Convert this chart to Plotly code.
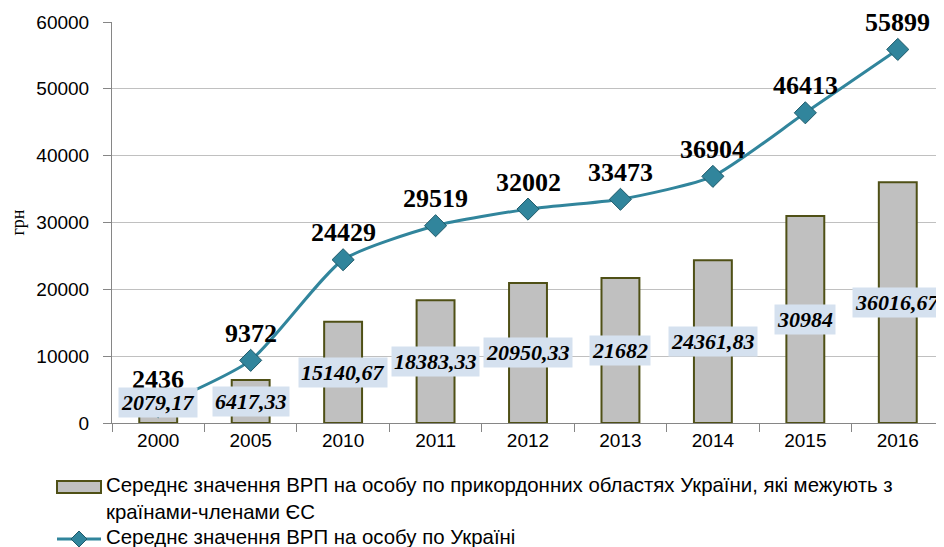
import plotly.graph_objects as go

years = ["2000", "2005", "2010", "2011", "2012", "2013", "2014", "2015", "2016"]
border_gdp = [2079.17, 6417.33, 15140.67, 18383.33, 20950.33, 21682, 24361.83, 30984, 36016.67]
border_labels = ["2079,17", "6417,33", "15140,67", "18383,33", "20950,33", "21682", "24361,83", "30984", "36016,67"]
ukraine_gdp = [2436, 9372, 24429, 29519, 32002, 33473, 36904, 46413, 55899]

legend_bar = "Середнє значення ВРП на особу по прикордонних областях України, які межують з<br>країнами-членами ЄС"
legend_line = "Середнє значення ВРП на особу по Україні"

# the page body has an 8px margin, so the figure is drawn 8px in from the window corner
OFF = 8
W, H = 944 - OFF, 547 - OFF
L, R, T, B = 112 - OFF, 0, 22 - OFF, 124
PW, PH = W - L - R, H - T - B


def px(x):
    # window pixel -> paper fraction
    return (x - OFF - L) / PW


def py(y):
    return (OFF + T + PH - y) / PH


SANS = "Liberation Sans"
SERIF = "Liberation Serif"
LINE_C = "#31859C"

fig = go.Figure()
fig.add_trace(go.Bar(
    x=years, y=border_gdp, name=legend_bar, width=0.41,
    marker=dict(color="#C0C0C0", line=dict(color="#4F5016", width=2)),
    showlegend=False,
))
fig.add_trace(go.Scatter(
    x=years, y=ukraine_gdp, name=legend_line,
    mode="lines+markers",
    line=dict(color=LINE_C, width=3, shape="spline", smoothing=0.6),
    marker=dict(symbol="diamond", size=17, color=LINE_C, line=dict(color="#1F5A6A", width=1)),
    cliponaxis=False, showlegend=False,
))

# line value labels above the points
for i, v in enumerate(ukraine_gdp):
    fig.add_annotation(
        x=i, y=v, text=f"<b>{v}</b>", showarrow=False, yanchor="middle", yshift=27,
        font=dict(family=SERIF, size=26, color="black"),
    )

# bar value labels in light blue boxes (x given as category index)
for i, (v, lab) in enumerate(zip(border_gdp, border_labels)):
    fig.add_annotation(
        x=i, y=max(v / 2, 3000), text=f"<b><i>{lab}</i></b>", showarrow=False,
        font=dict(family=SERIF, size=22, color="black"),
        bgcolor="#D5E1EF", borderpad=2,
    )

# hand-drawn legend below the chart
fig.add_shape(type="rect", xref="paper", yref="paper",
              x0=px(57), x1=px(101), y0=py(493), y1=py(481),
              fillcolor="#C0C0C0", line=dict(color="#4F5016", width=2))
fig.add_shape(type="line", xref="paper", yref="paper",
              x0=px(57), x1=px(101), y0=py(539), y1=py(539),
              line=dict(color=LINE_C, width=3))
d = 8
fig.add_shape(type="path", xref="paper", yref="paper",
              path=(f"M {px(79 - d)},{py(539)} L {px(79)},{py(539 - d)} "
                    f"L {px(79 + d)},{py(539)} L {px(79)},{py(539 + d)} Z"),
              fillcolor=LINE_C, line=dict(color="#1F5A6A", width=1))
fig.add_annotation(xref="paper", yref="paper", x=px(104), y=py(498), text=legend_bar,
                   showarrow=False, xanchor="left", yanchor="middle", align="left",
                   font=dict(family=SANS, size=20.4, color="black"))
fig.add_annotation(xref="paper", yref="paper", x=px(104), y=py(537), text=legend_line,
                   showarrow=False, xanchor="left", yanchor="middle", align="left",
                   font=dict(family=SANS, size=20.4, color="black"))

fig.update_layout(
    width=W, height=H,
    margin=dict(l=L, r=R, t=T, b=B, pad=0),
    plot_bgcolor="white", paper_bgcolor="white",
    showlegend=False,
)
fig.update_xaxes(
    type="category", range=[-0.5, len(years) - 0.5],
    showline=True, linecolor="#868686", linewidth=1,
    ticks="outside", tickson="boundaries", ticklen=8, tickcolor="#868686",
    tickfont=dict(family=SANS, size=19, color="black"), tickangle=0,
    showgrid=False,
)
fig.update_yaxes(
    range=[0, 60000], dtick=10000, tickformat="d",
    showline=True, linecolor="#868686", linewidth=1,
    ticks="outside", ticklen=8, tickcolor="#868686", ticklabelstandoff=10,
    tickfont=dict(family=SANS, size=19, color="black"),
    showgrid=True, gridcolor="#C0C0C0", gridwidth=1, zeroline=False,
    title=dict(text="грн", font=dict(family=SERIF, size=18, color="black"), standoff=8),
)

fig.write_html("out.html")
